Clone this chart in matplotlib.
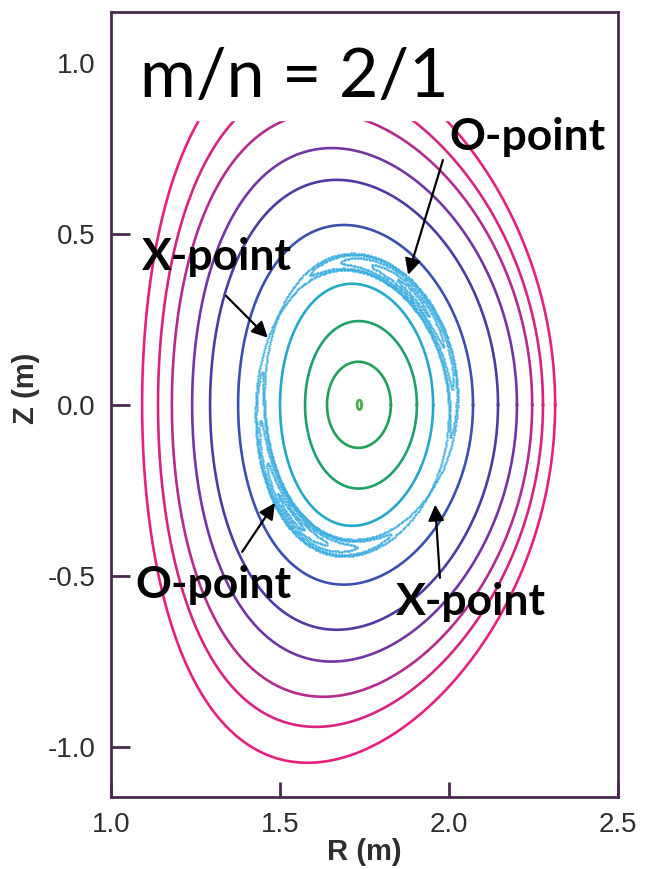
import numpy as np
import matplotlib.pyplot as plt
from matplotlib.patches import Rectangle

# ---------------- values ----------------
# nested flux surfaces, outermost first:
# inboard / outboard midplane R (m), top Z (m), triangularity
R_INNER = [1.092, 1.139, 1.180, 1.240, 1.293, 1.376, 1.500, 1.574, 1.639, 1.728]
R_OUTER = [2.314, 2.278, 2.246, 2.201, 2.145, 2.071, 1.953, 1.905, 1.828, 1.742]
Z_TOP   = [1.047, 0.942, 0.854, 0.751, 0.658, 0.526, 0.354, 0.245, 0.126, 0.014]
DELTA   = [0.20, 0.18, 0.16, 0.14, 0.12, 0.10, 0.06, 0.04, 0.02, 0.0]
COLORS  = ['#e6207c', '#d8237f', '#b42a8e', '#7335a3', '#5238a2', '#3a50b0',
           '#22a9c9', '#1fa068', '#22a058', '#4aae48']

# m/n = 2/1 island chain
ISL_R_IN, ISL_R_OUT, ISL_Z_TOP, ISL_DELTA = 1.441, 2.012, 0.418, 0.08
ISL_WIDTH   = 0.075   # half width at O-points, fraction of minor radius
ISL_THETA_O = 50.0    # poloidal angle of the O-point (deg)
ISL_LEVELS  = [0.2, 0.45, 0.7, 0.9, 1.0]
ISL_COLOR   = '#38ade0'

R_TICKS = [1.0, 1.5, 2.0, 2.5]
Z_TICKS = [-1.0, -0.5, 0.0, 0.5, 1.0]

FRAME = '#4a2a4e'
TICK_TXT = '#2e2e2e'


def surface(r_in, r_out, z_top, delta, theta, rho=1.0):
    r0 = 0.5 * (r_in + r_out)
    a = 0.5 * (r_out - r_in)
    kappa = z_top / a
    R = r0 + rho * a * np.cos(theta + delta * np.sin(theta))
    Z = kappa * rho * a * np.sin(theta)
    return R, Z


fig = plt.figure(figsize=(6.47, 8.69), dpi=100)
ax = fig.add_axes([0.1716, 0.0829, 0.7836, 0.9033])

theta = np.linspace(0, 2 * np.pi, 721)
for r_in, r_out, z_top, dl, col in zip(R_INNER, R_OUTER, Z_TOP, DELTA, COLORS):
    R, Z = surface(r_in, r_out, z_top, dl, theta)
    ax.plot(R, Z, color=col, lw=1.9, zorder=2)

# island chain: dotted nested island contours (Poincare-like)
th = np.linspace(0, 2 * np.pi, 420, endpoint=False)
phi = th - np.deg2rad(ISL_THETA_O)
for i, k in enumerate(ISL_LEVELS):
    s = k ** 2 - np.sin(phi) ** 2
    ok = s >= 0
    x = ISL_WIDTH * np.sqrt(np.clip(s, 0, None))
    for sign in (1, -1):
        R, Z = surface(ISL_R_IN, ISL_R_OUT, ISL_Z_TOP, ISL_DELTA,
                       th[ok] + 0.004 * i, rho=1 + sign * x[ok])
        ax.scatter(R, Z, s=3.0, color=ISL_COLOR, lw=0, alpha=0.9, zorder=2)

ax.set_xlim(1.0, 2.5)
ax.set_ylim(-1.147, 1.149)
ax.set_xticks(R_TICKS)
ax.set_yticks(Z_TICKS)
ax.set_xticklabels([f'{v:.1f}' for v in R_TICKS])
ax.set_yticklabels([f'{v:.1f}' for v in Z_TICKS])

for sp in ax.spines.values():
    sp.set_color(FRAME)
    sp.set_linewidth(2.0)
    sp.set_zorder(5)
ax.tick_params(axis='both', direction='in', color=FRAME, width=2.0,
               labelsize=20, labelcolor=TICK_TXT, top=False, right=False)
ax.tick_params(axis='y', length=14, pad=11)
ax.tick_params(axis='x', length=11, pad=11)
for lab in ax.get_xticklabels() + ax.get_yticklabels():
    lab.set_family('Liberation Sans')

ax.set_xlabel('R (m)', fontsize=21, fontweight='bold', color=TICK_TXT,
              family='Liberation Sans', labelpad=0)
ax.set_ylabel('Z (m)', fontsize=21, fontweight='bold', color=TICK_TXT,
              family='Liberation Sans', labelpad=4)
ax.yaxis.set_label_coords(-0.14, 0.52)

# white box behind the title
ax.add_patch(Rectangle((0, 0.862), 1, 0.14, transform=ax.transAxes,
                       color='white', zorder=3))
ax.text(0.057, 0.892, 'm/n = 2/1', transform=ax.transAxes, fontsize=49,
        family='Lato', va='baseline', ha='left', zorder=4)

# annotations
lab_kw = dict(fontsize=32, fontweight='bold', family='Lato',
              ha='center', va='center', zorder=6)
arr_kw = dict(arrowstyle='-|>', color='black', lw=1.6,
              mutation_scale=24, shrinkA=0, shrinkB=0)
notes = [('O-point', (2.231, 0.784), (1.982, 0.716), (1.879, 0.380)),
         ('X-point', (1.314, 0.433), (1.340, 0.319), (1.464, 0.196)),
         ('O-point', (1.302, -0.526), (1.388, -0.430), (1.485, -0.287)),
         ('X-point', (2.065, -0.576), (1.973, -0.506), (1.959, -0.292))]
for txt, pos, tail, tip in notes:
    ax.text(pos[0], pos[1], txt, **lab_kw)
    ax.annotate('', xy=tip, xytext=tail, arrowprops=arr_kw, zorder=6)

fig.savefig('out.png', dpi=100, facecolor='white')
